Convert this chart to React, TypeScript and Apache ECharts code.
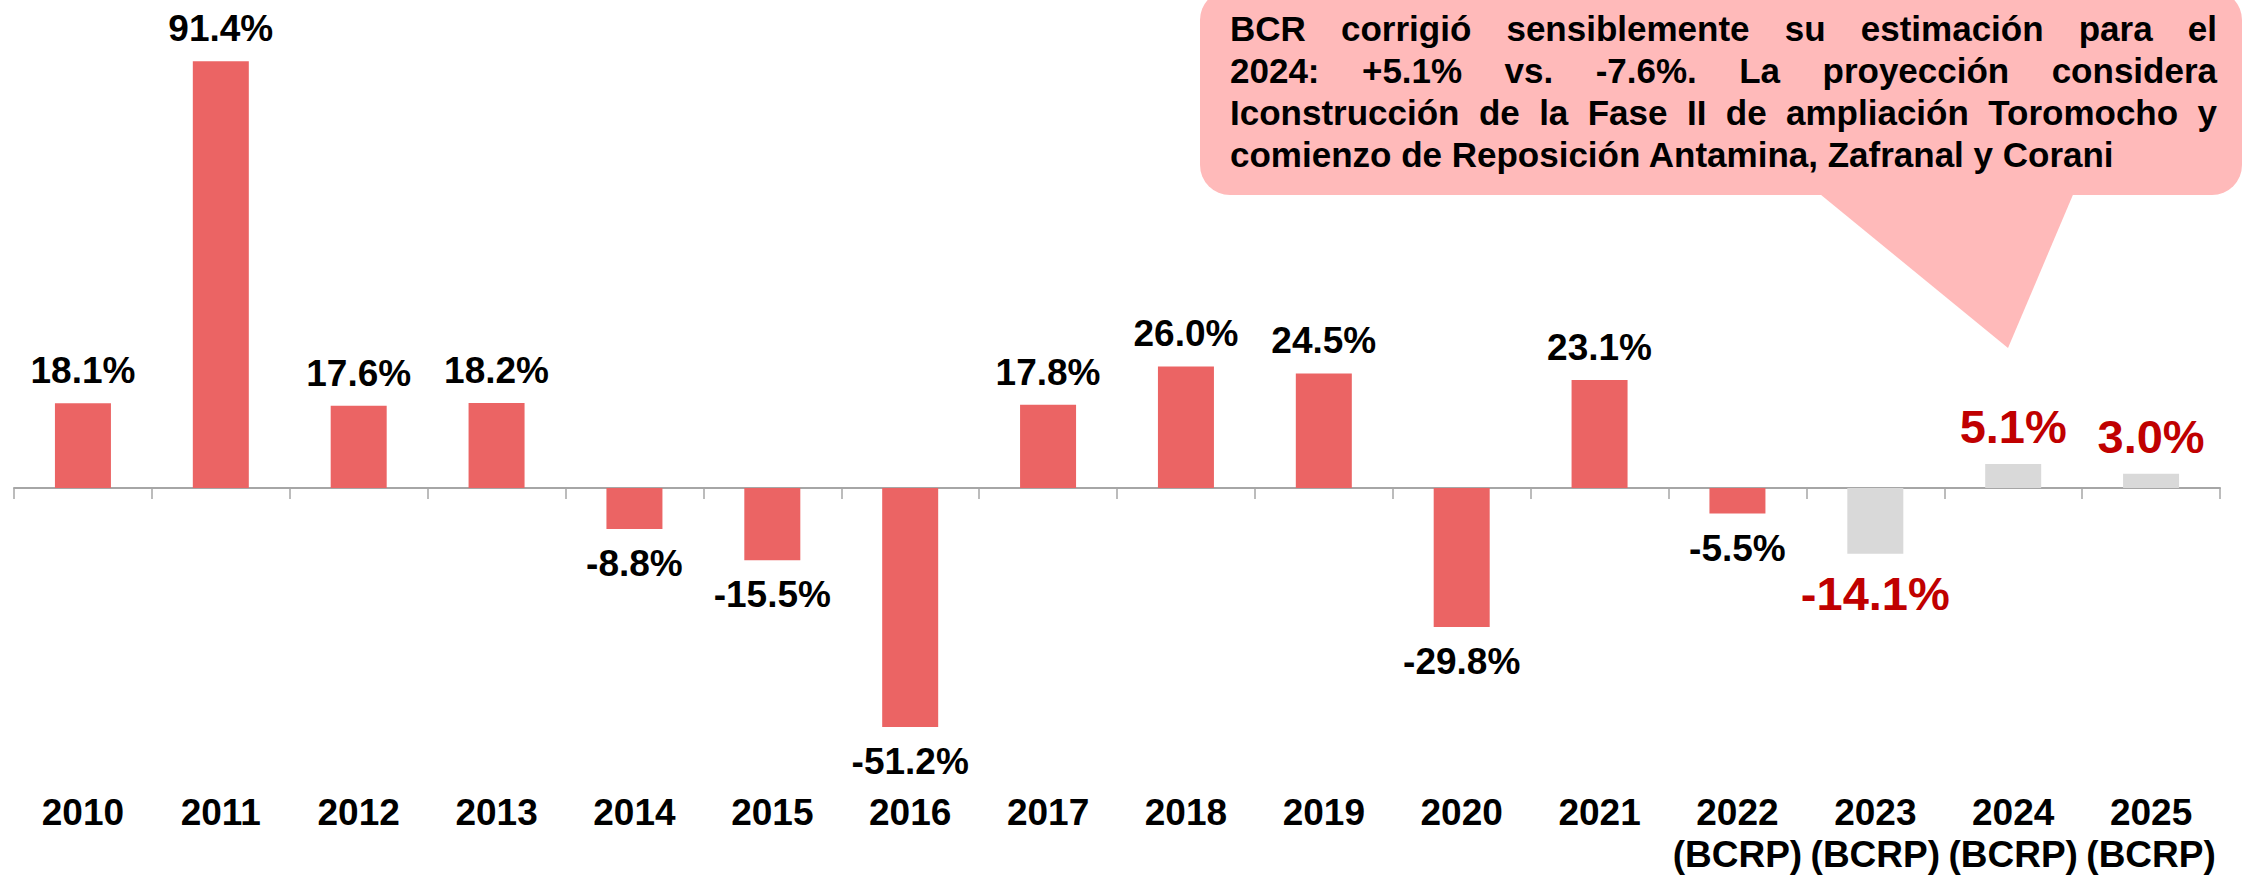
import React, { useEffect, useRef } from "react";
import * as echarts from "echarts";

const categories = [
  "2010", "2011", "2012", "2013", "2014", "2015", "2016", "2017", "2018", "2019", "2020", "2021",
  "2022\n(BCRP)", "2023\n(BCRP)", "2024\n(BCRP)", "2025\n(BCRP)",
];
const values = [18.1, 91.4, 17.6, 18.2, -8.8, -15.5, -51.2, 17.8, 26.0, 24.5, -29.8, 23.1, -5.5, -14.1, 5.1, 3.0];
const projected = [false, false, false, false, false, false, false, false, false, false, false, false, false, true, true, true];

const calloutLines = [
  "BCR corrigió sensiblemente su estimación para el",
  "2024: +5.1% vs. -7.6%. La proyección considera",
  "Iconstrucción de la Fase II de ampliación Toromocho y",
  "comienzo de Reposición Antamina, Zafranal y Corani",
];

const FONT = '"Liberation Sans", Arial, sans-serif';
const RED = "#EB6464";
const GRAY = "#D9D9D9";
const DARK_RED = "#C00000";
const CALLOUT = "#FFBABA";

function measure(ctx: CanvasRenderingContext2D, s: string) {
  return ctx.measureText(s).width;
}

function buildCallout(): any[] {
  const fontSize = 35;
  const x0 = 1230;
  const x1 = 2217;
  const W = x1 - x0;
  const y0 = 28;
  const lh = 42;
  const canvas = document.createElement("canvas");
  const ctx = canvas.getContext("2d") as CanvasRenderingContext2D;
  ctx.font = `bold ${fontSize}px "Liberation Sans"`;
  const els: any[] = [];
  const baseStyle = {
    fill: "#000",
    fontSize,
    fontWeight: "bold",
    fontFamily: FONT,
    verticalAlign: "middle",
    align: "left",
  };
  calloutLines.forEach((line, i) => {
    const y = y0 + i * lh;
    if (i === calloutLines.length - 1) {
      els.push({ type: "text", x: x0, y, z: 20, style: { ...baseStyle, text: line } });
      return;
    }
    const words = line.split(" ");
    const widths = words.map((w) => measure(ctx, w));
    const total = widths.reduce((a, b) => a + b, 0);
    const gap = (W - total) / (words.length - 1);
    let x = x0;
    words.forEach((w, k) => {
      els.push({ type: "text", x, y, z: 20, style: { ...baseStyle, text: w } });
      x += widths[k] + gap;
    });
  });
  return els;
}

export default function App() {
  const ref = useRef<HTMLDivElement>(null);
  useEffect(() => {
    if (!ref.current) return;
    const chart = echarts.init(ref.current, undefined, { renderer: "svg" });
    const data = values.map((v, i) => {
      const proj = projected[i];
      const neg = v < 0;
      return {
        value: v,
        itemStyle: { color: proj ? GRAY : RED },
        label: {
          show: true,
          position: neg ? "bottom" : "top",
          distance: neg ? 16 : 14,
          color: proj ? DARK_RED : "#000",
          fontSize: proj ? 47 : 37,
          fontWeight: "bold",
          fontFamily: FONT,
          formatter: (p: any) => p.value.toFixed(1) + "%",
        },
      };
    });
    chart.setOption({
      animation: false,
      backgroundColor: "#fff",
      grid: {
        left: 14,
        right: 24,
        top: 21,
        bottom: 109,
        containLabel: false,
        outerBoundsMode: "none",
      },
      xAxis: {
        type: "category",
        data: categories,
        axisLine: { onZero: true, lineStyle: { color: "#A6A6A6", width: 2 } },
        axisTick: { show: true, length: 11, lineStyle: { color: "#A6A6A6", width: 1.5 } },
        axisLabel: {
          interval: 0,
          margin: 23,
          color: "#000",
          fontSize: 37,
          fontWeight: "bold",
          fontFamily: FONT,
          lineHeight: 42,
          verticalAlign: "top",
        },
      },
      yAxis: {
        type: "value",
        min: -60,
        max: 100,
        show: false,
        splitLine: { show: false },
      },
      series: [
        {
          type: "bar",
          data,
          barWidth: 56,
        },
      ],
      graphic: [
        {
          type: "polygon",
          z: 10,
          shape: { points: [[1815, 190], [2075, 190], [2008, 348]] },
          style: { fill: CALLOUT },
        },
        {
          type: "rect",
          z: 10,
          shape: { x: 1200, y: -10, width: 1042, height: 205, r: 30 },
          style: { fill: CALLOUT },
        },
        ...buildCallout(),
      ],
    });
    return () => chart.dispose();
  }, []);
  return (
    <div
      ref={ref}
      style={{ position: "fixed", left: 0, top: 0, width: 2244, height: 877 }}
    />
  );
}
